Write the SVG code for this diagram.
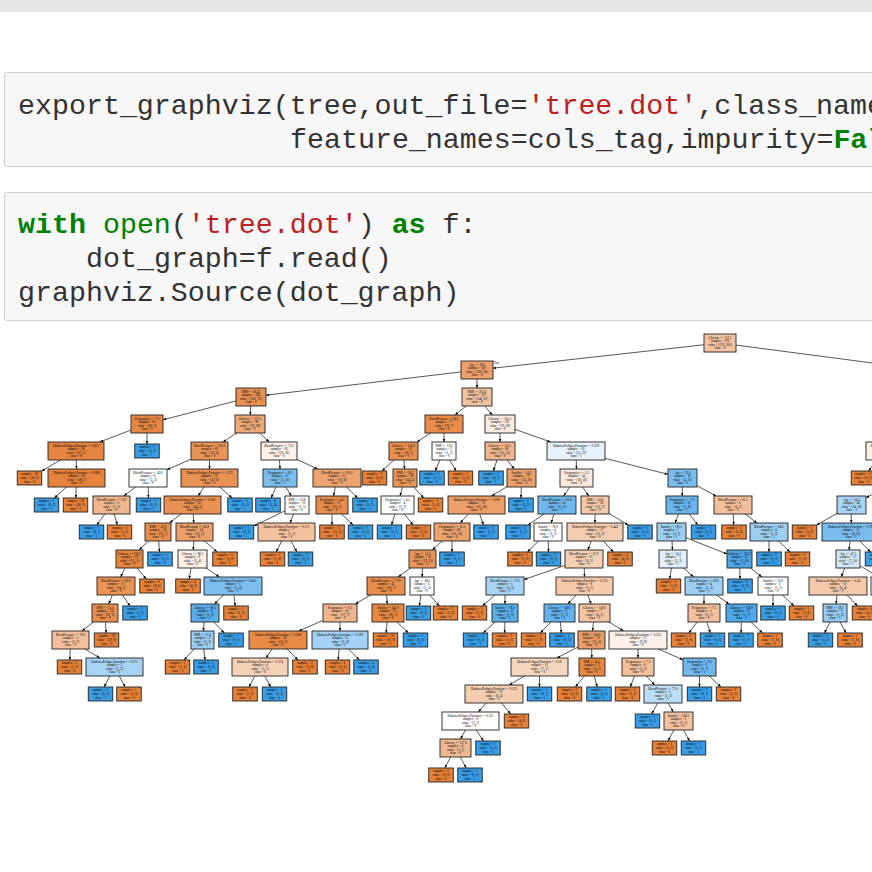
<svg xmlns="http://www.w3.org/2000/svg" width="872" height="872" viewBox="0 0 872 872">
<style>
.cell{fill:#f7f7f7;stroke:#cfcfcf;stroke-width:1}
.code{font-family:"Liberation Mono","DejaVu Sans Mono",monospace;font-size:28.3px;fill:#333}
.s{fill:#ba2121}
.k{fill:#008000;font-weight:bold}
.bi{fill:#008000}
.e{stroke:#444;stroke-width:0.9;fill:none;marker-end:url(#ah)}
.e0{stroke:#444;stroke-width:0.9;fill:none}
.nd rect{stroke:#222;stroke-width:0.9}
.nd text,.lbl{font-family:"Liberation Serif","DejaVu Serif",serif;font-size:3.2px;fill:#000;text-anchor:middle}
.o{fill:#e58139}
.b{fill:#399de5}
</style>
<defs>
<marker id="ah" viewBox="0 0 10 10" refX="10" refY="5" markerWidth="3.4" markerHeight="2.6" markerUnits="userSpaceOnUse" orient="auto" preserveAspectRatio="none"><path d="M0,0 L10,5 L0,10 z" fill="#000"/></marker>
</defs>
<rect x="0" y="0" width="872" height="872" fill="#fff"/>
<rect x="0" y="0" width="872" height="12" fill="#e6e6e6"/>
<g id="cell1">
<rect class="cell" x="4.5" y="72.5" width="880" height="94" rx="2"/>
<text class="code" x="18" y="114">export_graphviz(tree,out_file=<tspan class="s">'tree.dot'</tspan>,class_name</text>
<text class="code" x="290" y="148">feature_names=cols_tag,impurity=<tspan class="k">Fal</tspan></text>
</g>
<g id="cell2">
<rect class="cell" x="4.5" y="192.5" width="880" height="128" rx="2"/>
<text class="code" x="18" y="233"><tspan class="k">with</tspan> <tspan class="bi">open</tspan>(<tspan class="s">'tree.dot'</tspan>) <tspan class="k">as</tspan> f:</text>
<text class="code" x="86" y="267">dot_graph=f.read()</text>
<text class="code" x="18" y="301">graphviz.Source(dot_graph)</text>
</g>
<g id="edges">
<line class="e" x1="720" y1="343" x2="493" y2="368.2"/>
<line class="e0" x1="720" y1="343" x2="900" y2="366.6"/>
<line class="e" x1="477" y1="370" x2="266" y2="395.2"/>
<line class="e" x1="477" y1="370" x2="477" y2="388"/>
<line class="e" x1="251" y1="397" x2="163" y2="419.8"/>
<line class="e" x1="251" y1="397" x2="250.3" y2="415"/>
<line class="e" x1="477" y1="397" x2="455" y2="415"/>
<line class="e" x1="477" y1="397" x2="492.3" y2="415"/>
<line class="e" x1="147" y1="424" x2="99.7" y2="442"/>
<line class="e" x1="147" y1="424" x2="147" y2="444"/>
<line class="e" x1="250" y1="424" x2="223" y2="442"/>
<line class="e" x1="250" y1="424" x2="269.3" y2="442"/>
<line class="e" x1="444" y1="424" x2="417" y2="442"/>
<line class="e" x1="444" y1="424" x2="444" y2="442"/>
<line class="e" x1="500" y1="424" x2="500" y2="442"/>
<line class="e" x1="500" y1="424" x2="550.7" y2="442"/>
<line class="e" x1="76" y1="451" x2="41.6" y2="471"/>
<line class="e" x1="76" y1="451" x2="76.5" y2="469"/>
<line class="e" x1="209.5" y1="451" x2="167" y2="469.7"/>
<line class="e" x1="209.5" y1="451" x2="209.5" y2="469"/>
<line class="e" x1="279" y1="451" x2="280" y2="469"/>
<line class="e" x1="279" y1="451" x2="317.7" y2="469"/>
<line class="e" x1="403.5" y1="451" x2="382" y2="471"/>
<line class="e" x1="403.5" y1="451" x2="404.5" y2="469"/>
<line class="e" x1="444" y1="451" x2="435.1" y2="471"/>
<line class="e" x1="444" y1="451" x2="456.2" y2="471"/>
<line class="e" x1="500" y1="451" x2="493.3" y2="471"/>
<line class="e" x1="500" y1="451" x2="514.3" y2="469"/>
<line class="e" x1="576" y1="451" x2="576.5" y2="469"/>
<line class="e" x1="576" y1="451" x2="668" y2="474.3"/>
<line class="e" x1="883" y1="451" x2="868.6" y2="471"/>
<line class="e" x1="905" y1="478" x2="866" y2="497.7"/>
<line class="e" x1="76.5" y1="478" x2="54.3" y2="498"/>
<line class="e" x1="76.5" y1="478" x2="75.8" y2="498"/>
<line class="e" x1="148" y1="478" x2="123.7" y2="496"/>
<line class="e" x1="148" y1="478" x2="148.5" y2="498"/>
<line class="e" x1="209.5" y1="478" x2="198.2" y2="496"/>
<line class="e" x1="209.5" y1="478" x2="232.1" y2="498"/>
<line class="e" x1="280" y1="478" x2="271.1" y2="498"/>
<line class="e" x1="280" y1="478" x2="291.3" y2="496"/>
<line class="e" x1="337" y1="478" x2="333.7" y2="496"/>
<line class="e" x1="337" y1="478" x2="357.7" y2="498"/>
<line class="e" x1="405" y1="478" x2="400" y2="496"/>
<line class="e" x1="405" y1="478" x2="423.9" y2="498"/>
<line class="e" x1="521.5" y1="478" x2="491.5" y2="496"/>
<line class="e" x1="521.5" y1="478" x2="521" y2="498"/>
<line class="e" x1="576.5" y1="478" x2="563.5" y2="496"/>
<line class="e" x1="576.5" y1="478" x2="588.8" y2="496"/>
<line class="e" x1="682.5" y1="478" x2="682.2" y2="496"/>
<line class="e" x1="682.5" y1="478" x2="716.2" y2="496"/>
<line class="e" x1="851.5" y1="505" x2="816.7" y2="525"/>
<line class="e" x1="851.5" y1="505" x2="851.2" y2="523"/>
<line class="e" x1="111.5" y1="505" x2="96.7" y2="525"/>
<line class="e" x1="111.5" y1="505" x2="117.4" y2="525"/>
<line class="e" x1="192.5" y1="505" x2="169.5" y2="523"/>
<line class="e" x1="192.5" y1="505" x2="193.8" y2="523"/>
<line class="e" x1="297" y1="505" x2="253.75" y2="526"/>
<line class="e" x1="297" y1="505" x2="290" y2="523"/>
<line class="e" x1="332" y1="505" x2="332" y2="525"/>
<line class="e" x1="332" y1="505" x2="353.1" y2="525"/>
<line class="e" x1="397.5" y1="505" x2="391.6" y2="525"/>
<line class="e" x1="397.5" y1="505" x2="413.1" y2="525"/>
<line class="e" x1="476.5" y1="505" x2="460.2" y2="523"/>
<line class="e" x1="476.5" y1="505" x2="483.5" y2="525"/>
<line class="e" x1="557" y1="505" x2="528.1" y2="525"/>
<line class="e" x1="557" y1="505" x2="551" y2="523"/>
<line class="e" x1="595" y1="505" x2="595" y2="523"/>
<line class="e" x1="595" y1="505" x2="628.3" y2="525"/>
<line class="e" x1="682" y1="505" x2="675" y2="523"/>
<line class="e" x1="682" y1="505" x2="697.9" y2="525"/>
<line class="e" x1="733" y1="505" x2="733.7" y2="525"/>
<line class="e" x1="733" y1="505" x2="757" y2="523"/>
<line class="e" x1="851" y1="532" x2="849" y2="550"/>
<line class="e" x1="851" y1="532" x2="870.6" y2="552"/>
<line class="e" x1="158" y1="532" x2="139" y2="550"/>
<line class="e" x1="158" y1="532" x2="159.5" y2="552"/>
<line class="e" x1="194.5" y1="532" x2="193.2" y2="550"/>
<line class="e" x1="194.5" y1="532" x2="217.1" y2="552"/>
<line class="e" x1="286.5" y1="532" x2="276.1" y2="552"/>
<line class="e" x1="286.5" y1="532" x2="296.9" y2="552"/>
<line class="e" x1="452" y1="532" x2="432.3" y2="550"/>
<line class="e" x1="452" y1="532" x2="452" y2="552"/>
<line class="e" x1="548" y1="532" x2="527.3" y2="552"/>
<line class="e" x1="548" y1="532" x2="548.5" y2="552"/>
<line class="e" x1="595" y1="532" x2="587.7" y2="550"/>
<line class="e" x1="595" y1="532" x2="613.5" y2="552"/>
<line class="e" x1="671.5" y1="532" x2="672.5" y2="550"/>
<line class="e" x1="671.5" y1="532" x2="727" y2="554"/>
<line class="e" x1="769" y1="532" x2="769" y2="552"/>
<line class="e" x1="769" y1="532" x2="790.1" y2="552"/>
<line class="e" x1="848" y1="559" x2="841.3" y2="577"/>
<line class="e" x1="848" y1="559" x2="879.3" y2="577"/>
<line class="e" x1="129.5" y1="559" x2="120.5" y2="577"/>
<line class="e" x1="129.5" y1="559" x2="146.2" y2="579"/>
<line class="e" x1="192.5" y1="559" x2="189.2" y2="579"/>
<line class="e" x1="192.5" y1="559" x2="219.5" y2="577"/>
<line class="e" x1="422.5" y1="559" x2="398.2" y2="577"/>
<line class="e" x1="422.5" y1="559" x2="422.2" y2="577"/>
<line class="e" x1="584" y1="559" x2="524" y2="579.5"/>
<line class="e" x1="584" y1="559" x2="584.5" y2="577"/>
<line class="e" x1="673" y1="559" x2="669.7" y2="579"/>
<line class="e" x1="673" y1="559" x2="693.7" y2="577"/>
<line class="e" x1="739.5" y1="559" x2="740" y2="579"/>
<line class="e" x1="739.5" y1="559" x2="761.8" y2="577"/>
<line class="e" x1="116" y1="586" x2="108.7" y2="604"/>
<line class="e" x1="116" y1="586" x2="130.1" y2="606"/>
<line class="e" x1="233" y1="586" x2="214.3" y2="604"/>
<line class="e" x1="233" y1="586" x2="235.2" y2="606"/>
<line class="e" x1="386" y1="586" x2="355.3" y2="604"/>
<line class="e" x1="386" y1="586" x2="387.3" y2="604"/>
<line class="e" x1="422" y1="586" x2="419.4" y2="606"/>
<line class="e" x1="422" y1="586" x2="439.4" y2="606"/>
<line class="e" x1="505" y1="586" x2="482.4" y2="606"/>
<line class="e" x1="505" y1="586" x2="505" y2="604"/>
<line class="e" x1="584.5" y1="586" x2="567.8" y2="604"/>
<line class="e" x1="584.5" y1="586" x2="591.2" y2="604"/>
<line class="e" x1="704" y1="586" x2="704" y2="604"/>
<line class="e" x1="704" y1="586" x2="729" y2="604"/>
<line class="e" x1="773" y1="586" x2="773" y2="606"/>
<line class="e" x1="773" y1="586" x2="794.1" y2="606"/>
<line class="e" x1="838" y1="586" x2="836" y2="604"/>
<line class="e" x1="838" y1="586" x2="857.6" y2="606"/>
<line class="e" x1="105" y1="613" x2="82" y2="631"/>
<line class="e" x1="105" y1="613" x2="106.1" y2="633"/>
<line class="e" x1="205" y1="613" x2="203.3" y2="631"/>
<line class="e" x1="205" y1="613" x2="224.3" y2="633"/>
<line class="e" x1="340" y1="613" x2="298.7" y2="631"/>
<line class="e" x1="340" y1="613" x2="340" y2="631"/>
<line class="e" x1="388" y1="613" x2="386.1" y2="633"/>
<line class="e" x1="388" y1="613" x2="408.4" y2="633"/>
<line class="e" x1="505" y1="613" x2="483.1" y2="633"/>
<line class="e" x1="505" y1="613" x2="504.6" y2="633"/>
<line class="e" x1="559.5" y1="613" x2="540.2" y2="633"/>
<line class="e" x1="559.5" y1="613" x2="561.4" y2="633"/>
<line class="e" x1="594.5" y1="613" x2="592.5" y2="631"/>
<line class="e" x1="594.5" y1="613" x2="623.5" y2="631"/>
<line class="e" x1="704" y1="613" x2="688.8" y2="633"/>
<line class="e" x1="704" y1="613" x2="710.3" y2="633"/>
<line class="e" x1="741.5" y1="613" x2="741.1" y2="633"/>
<line class="e" x1="741.5" y1="613" x2="762.6" y2="633"/>
<line class="e" x1="835" y1="613" x2="824.3" y2="633"/>
<line class="e" x1="835" y1="613" x2="846.1" y2="633"/>
<line class="e" x1="70.5" y1="640" x2="69.8" y2="660"/>
<line class="e" x1="70.5" y1="640" x2="99.8" y2="658"/>
<line class="e" x1="202.5" y1="640" x2="184" y2="660"/>
<line class="e" x1="202.5" y1="640" x2="205.1" y2="660"/>
<line class="e" x1="278" y1="640" x2="266" y2="658"/>
<line class="e" x1="278" y1="640" x2="298" y2="660"/>
<line class="e" x1="340" y1="640" x2="338.1" y2="660"/>
<line class="e" x1="340" y1="640" x2="359.3" y2="660"/>
<line class="e" x1="591.5" y1="640" x2="556.8" y2="658"/>
<line class="e" x1="591.5" y1="640" x2="591.8" y2="658"/>
<line class="e" x1="638" y1="640" x2="638" y2="658"/>
<line class="e" x1="638" y1="640" x2="683" y2="659.8"/>
<line class="e" x1="114.5" y1="667" x2="104.1" y2="687"/>
<line class="e" x1="114.5" y1="667" x2="125.2" y2="687"/>
<line class="e" x1="260" y1="667" x2="248.9" y2="687"/>
<line class="e" x1="260" y1="667" x2="270.7" y2="687"/>
<line class="e" x1="539.5" y1="667" x2="509.2" y2="685"/>
<line class="e" x1="539.5" y1="667" x2="539.5" y2="687"/>
<line class="e" x1="592" y1="667" x2="575.3" y2="687"/>
<line class="e" x1="592" y1="667" x2="597.2" y2="687"/>
<line class="e" x1="638" y1="667" x2="630.2" y2="687"/>
<line class="e" x1="638" y1="667" x2="654.7" y2="685"/>
<line class="e" x1="699.5" y1="667" x2="699.5" y2="687"/>
<line class="e" x1="699.5" y1="667" x2="721" y2="687"/>
<line class="e" x1="494" y1="694" x2="478.3" y2="712"/>
<line class="e" x1="494" y1="694" x2="510.7" y2="714"/>
<line class="e" x1="663" y1="694" x2="651.5" y2="714"/>
<line class="e" x1="663" y1="694" x2="673.3" y2="712"/>
<line class="e" x1="470.5" y1="721" x2="460.5" y2="739"/>
<line class="e" x1="470.5" y1="721" x2="483.5" y2="741"/>
<line class="e" x1="678.5" y1="721" x2="668.1" y2="741"/>
<line class="e" x1="678.5" y1="721" x2="689.6" y2="741"/>
<line class="e" x1="455.5" y1="748" x2="444.8" y2="768"/>
<line class="e" x1="455.5" y1="748" x2="466.2" y2="768"/>
</g>
<text class="lbl" x="496.5" y="364" font-size="2.8">True</text>
<g id="nodes">
<g id="n0" class="nd"><rect x="704" y="334" width="32" height="18" fill="#f3c4a2"/><text x="720" y="338.6">Glucose &lt;= 127.5<tspan x="720" dy="3.6">samples = 576</tspan><tspan x="720" dy="3.6">value = [376, 200]</tspan><tspan x="720" dy="3.6">class = 0</tspan></text></g>
<g id="n1" class="nd"><rect x="461" y="361" width="32" height="18" fill="#eda06a"/><text x="477" y="365.6">Age &lt;= 28.5<tspan x="477" dy="3.6">samples = 367</tspan><tspan x="477" dy="3.6">value = [287, 80]</tspan><tspan x="477" dy="3.6">class = 0</tspan></text></g>
<g id="n3" class="nd"><rect x="236" y="388" width="30" height="18" fill="#e89152"/><text x="251" y="392.6">BMI &lt;= 26.45<tspan x="251" dy="3.6">samples = 160</tspan><tspan x="251" dy="3.6">value = [147, 13]</tspan><tspan x="251" dy="3.6">class = 0</tspan></text></g>
<g id="n4" class="nd"><rect x="462" y="388" width="30" height="18" fill="#f2c3a1"/><text x="477" y="392.6">BMI &lt;= 26.35<tspan x="477" dy="3.6">samples = 207</tspan><tspan x="477" dy="3.6">value = [140, 67]</tspan><tspan x="477" dy="3.6">class = 0</tspan></text></g>
<g id="n5" class="nd"><rect x="131" y="415" width="32" height="18" fill="#e68844"/><text x="147" y="419.6">Pregnancies &lt;= 7.5<tspan x="147" dy="3.6">samples = 65</tspan><tspan x="147" dy="3.6">value = [63, 2]</tspan><tspan x="147" dy="3.6">class = 0</tspan></text></g>
<g id="n6" class="nd"><rect x="235" y="415" width="30" height="18" fill="#eda877"/><text x="250" y="419.6">Glucose &lt;= 117.5<tspan x="250" dy="3.6">samples = 98</tspan><tspan x="250" dy="3.6">value = [70, 28]</tspan><tspan x="250" dy="3.6">class = 0</tspan></text></g>
<g id="n7" class="nd"><rect x="425" y="415" width="38" height="18" fill="#e88d4c"/><text x="444" y="419.6">BloodPressure &lt;= 84.5<tspan x="444" dy="3.6">samples = 77</tspan><tspan x="444" dy="3.6">value = [70, 7]</tspan><tspan x="444" dy="3.6">class = 0</tspan></text></g>
<g id="n8" class="nd"><rect x="485" y="415" width="30" height="18" fill="#fbede3"/><text x="500" y="419.6">Glucose &lt;= 165.5<tspan x="500" dy="3.6">samples = 130</tspan><tspan x="500" dy="3.6">value = [70, 60]</tspan><tspan x="500" dy="3.6">class = 0</tspan></text></g>
<g id="n9" class="nd"><rect x="48" y="442" width="56" height="18" fill="#e6853f"/><text x="76" y="446.6">DiabetesPedigreeFunction &lt;= 0.672<tspan x="76" dy="3.6">samples = 58</tspan><tspan x="76" dy="3.6">value = [57, 1]</tspan><tspan x="76" dy="3.6">class = 0</tspan></text></g>
<g id="n10" class="nd"><rect class="b" x="134.75" y="444" width="24.5" height="14"/><text x="147" y="448.4">samples = 3<tspan x="147" dy="3.6">value = [0, 3]</tspan><tspan x="147" dy="3.6">class = 1</tspan></text></g>
<g id="n11" class="nd"><rect x="191" y="442" width="37" height="18" fill="#e99558"/><text x="209.5" y="446.6">BloodPressure &lt;= 103.0<tspan x="209.5" dy="3.6">samples = 60</tspan><tspan x="209.5" dy="3.6">value = [52, 8]</tspan><tspan x="209.5" dy="3.6">class = 0</tspan></text></g>
<g id="n12" class="nd"><rect x="261" y="442" width="36" height="18" fill="#fcf2eb"/><text x="279" y="446.6">BloodPressure &lt;= 73.5<tspan x="279" dy="3.6">samples = 38</tspan><tspan x="279" dy="3.6">value = [20, 18]</tspan><tspan x="279" dy="3.6">class = 0</tspan></text></g>
<g id="n13" class="nd"><rect x="389" y="442" width="29" height="18" fill="#e89050"/><text x="403.5" y="446.6">Glucose &lt;= 114.5<tspan x="403.5" dy="3.6">samples = 55</tspan><tspan x="403.5" dy="3.6">value = [50, 5]</tspan><tspan x="403.5" dy="3.6">class = 0</tspan></text></g>
<g id="n14" class="nd"><rect x="432" y="442" width="24" height="18" fill="#ffffff"/><text x="444" y="446.6">BMI &lt;= 12.0<tspan x="444" dy="3.6">samples = 2</tspan><tspan x="444" dy="3.6">value = [1, 1]</tspan><tspan x="444" dy="3.6">class = 0</tspan></text></g>
<g id="n15" class="nd"><rect x="485" y="442" width="30" height="18" fill="#f0b68c"/><text x="500" y="446.6">Glucose &lt;= 155.5<tspan x="500" dy="3.6">samples = 80</tspan><tspan x="500" dy="3.6">value = [55, 25]</tspan><tspan x="500" dy="3.6">class = 0</tspan></text></g>
<g id="n16" class="nd"><rect x="547" y="442" width="58" height="18" fill="#e5f2fc"/><text x="576" y="446.6">DiabetesPedigreeFunction &lt;= 0.529<tspan x="576" dy="3.6">samples = 50</tspan><tspan x="576" dy="3.6">value = [23, 27]</tspan><tspan x="576" dy="3.6">class = 1</tspan></text></g>
<g id="n17" class="nd"><rect x="866" y="442" width="34" height="18" fill="#fbeee5"/><text x="883" y="446.6">Pregnancies &lt;= 6.5<tspan x="883" dy="3.6">samples = 193</tspan><tspan x="883" dy="3.6">value = [98, 95]</tspan><tspan x="883" dy="3.6">class = 0</tspan></text></g>
<g id="n18" class="nd"><rect class="o" x="17.25" y="471" width="24.5" height="14"/><text x="29.5" y="475.4">samples = 26<tspan x="29.5" dy="3.6">value = [26, 0]</tspan><tspan x="29.5" dy="3.6">class = 0</tspan></text></g>
<g id="n19" class="nd"><rect x="48" y="469" width="57" height="18" fill="#e5833c"/><text x="76.5" y="473.6">DiabetesPedigreeFunction &lt;= 0.688<tspan x="76.5" dy="3.6">samples = 29</tspan><tspan x="76.5" dy="3.6">value = [28, 1]</tspan><tspan x="76.5" dy="3.6">class = 0</tspan></text></g>
<g id="n20" class="nd"><rect x="129" y="469" width="38" height="18" fill="#ffffff"/><text x="148" y="473.6">BloodPressure &lt;= 49.0<tspan x="148" dy="3.6">samples = 6</tspan><tspan x="148" dy="3.6">value = [3, 3]</tspan><tspan x="148" dy="3.6">class = 0</tspan></text></g>
<g id="n21" class="nd"><rect x="181" y="469" width="57" height="18" fill="#e89253"/><text x="209.5" y="473.6">DiabetesPedigreeFunction &lt;= 1.272<tspan x="209.5" dy="3.6">samples = 53</tspan><tspan x="209.5" dy="3.6">value = [47, 6]</tspan><tspan x="209.5" dy="3.6">class = 0</tspan></text></g>
<g id="n22" class="nd"><rect x="263" y="469" width="34" height="18" fill="#7bbeee"/><text x="280" y="473.6">Pregnancies &lt;= 8.5<tspan x="280" dy="3.6">samples = 13</tspan><tspan x="280" dy="3.6">value = [3, 10]</tspan><tspan x="280" dy="3.6">class = 1</tspan></text></g>
<g id="n23" class="nd"><rect x="313" y="469" width="48" height="18" fill="#eca36e"/><text x="337" y="473.6">BloodPressure &lt;= 101.0<tspan x="337" dy="3.6">samples = 25</tspan><tspan x="337" dy="3.6">value = [19, 6]</tspan><tspan x="337" dy="3.6">class = 0</tspan></text></g>
<g id="n24" class="nd"><rect class="o" x="362.25" y="471" width="24.5" height="14"/><text x="374.5" y="475.4">samples = 9<tspan x="374.5" dy="3.6">value = [9, 0]</tspan><tspan x="374.5" dy="3.6">class = 0</tspan></text></g>
<g id="n25" class="nd"><rect x="393" y="469" width="24" height="18" fill="#e99659"/><text x="405" y="473.6">BMI &lt;= 24.2<tspan x="405" dy="3.6">samples = 28</tspan><tspan x="405" dy="3.6">value = [24, 4]</tspan><tspan x="405" dy="3.6">class = 0</tspan></text></g>
<g id="n26" class="nd"><rect class="b" x="419.75" y="471" width="24.5" height="14"/><text x="432" y="475.4">samples = 1<tspan x="432" dy="3.6">value = [0, 1]</tspan><tspan x="432" dy="3.6">class = 1</tspan></text></g>
<g id="n27" class="nd"><rect class="o" x="448.25" y="471" width="24.5" height="14"/><text x="460.5" y="475.4">samples = 1<tspan x="460.5" dy="3.6">value = [1, 0]</tspan><tspan x="460.5" dy="3.6">class = 0</tspan></text></g>
<g id="n28" class="nd"><rect class="b" x="478.75" y="471" width="24.5" height="14"/><text x="491" y="475.4">samples = 2<tspan x="491" dy="3.6">value = [0, 2]</tspan><tspan x="491" dy="3.6">class = 1</tspan></text></g>
<g id="n29" class="nd"><rect x="507" y="469" width="29" height="18" fill="#eca06a"/><text x="521.5" y="473.6">Insulin &lt;= 14.5<tspan x="521.5" dy="3.6">samples = 72</tspan><tspan x="521.5" dy="3.6">value = [52, 20]</tspan><tspan x="521.5" dy="3.6">class = 0</tspan></text></g>
<g id="n30" class="nd"><rect x="560" y="469" width="33" height="18" fill="#fae9dc"/><text x="576.5" y="473.6">Pregnancies &lt;= 1.5<tspan x="576.5" dy="3.6">samples = 34</tspan><tspan x="576.5" dy="3.6">value = [18, 16]</tspan><tspan x="576.5" dy="3.6">class = 0</tspan></text></g>
<g id="n31" class="nd"><rect x="668" y="469" width="29" height="18" fill="#7bbeee"/><text x="682.5" y="473.6">Age &lt;= 33.5<tspan x="682.5" dy="3.6">samples = 16</tspan><tspan x="682.5" dy="3.6">value = [4, 12]</tspan><tspan x="682.5" dy="3.6">class = 1</tspan></text></g>
<g id="n32" class="nd"><rect class="o" x="851.25" y="471" width="24.5" height="14"/><text x="863.5" y="475.4">samples = 12<tspan x="863.5" dy="3.6">value = [12, 0]</tspan><tspan x="863.5" dy="3.6">class = 0</tspan></text></g>
<g id="n33" class="nd"><rect class="b" x="34.25" y="498" width="24.5" height="14"/><text x="46.5" y="502.4">samples = 1<tspan x="46.5" dy="3.6">value = [0, 1]</tspan><tspan x="46.5" dy="3.6">class = 1</tspan></text></g>
<g id="n34" class="nd"><rect class="o" x="63.25" y="498" width="24.5" height="14"/><text x="75.5" y="502.4">samples = 28<tspan x="75.5" dy="3.6">value = [28, 0]</tspan><tspan x="75.5" dy="3.6">class = 0</tspan></text></g>
<g id="n35" class="nd"><rect x="93" y="496" width="37" height="18" fill="#f0b78e"/><text x="111.5" y="500.6">BloodPressure &lt;= 72.0<tspan x="111.5" dy="3.6">samples = 5</tspan><tspan x="111.5" dy="3.6">value = [3, 2]</tspan><tspan x="111.5" dy="3.6">class = 0</tspan></text></g>
<g id="n36" class="nd"><rect class="b" x="136.25" y="498" width="24.5" height="14"/><text x="148.5" y="502.4">samples = 1<tspan x="148.5" dy="3.6">value = [0, 1]</tspan><tspan x="148.5" dy="3.6">class = 1</tspan></text></g>
<g id="n37" class="nd"><rect x="164" y="496" width="57" height="18" fill="#e89152"/><text x="192.5" y="500.6">DiabetesPedigreeFunction &lt;= 0.181<tspan x="192.5" dy="3.6">samples = 50</tspan><tspan x="192.5" dy="3.6">value = [44, 6]</tspan><tspan x="192.5" dy="3.6">class = 0</tspan></text></g>
<g id="n38" class="nd"><rect class="b" x="227.75" y="498" width="24.5" height="14"/><text x="240" y="502.4">samples = 3<tspan x="240" dy="3.6">value = [0, 3]</tspan><tspan x="240" dy="3.6">class = 1</tspan></text></g>
<g id="n39" class="nd"><rect class="b" x="255.75" y="498" width="24.5" height="14"/><text x="268" y="502.4">samples = 4<tspan x="268" dy="3.6">value = [0, 4]</tspan><tspan x="268" dy="3.6">class = 1</tspan></text></g>
<g id="n40" class="nd"><rect x="285" y="496" width="24" height="18" fill="#ffffff"/><text x="297" y="500.6">BMI &lt;= 33.8<tspan x="297" dy="3.6">samples = 10</tspan><tspan x="297" dy="3.6">value = [5, 5]</tspan><tspan x="297" dy="3.6">class = 0</tspan></text></g>
<g id="n41" class="nd"><rect x="316" y="496" width="32" height="18" fill="#e88e4d"/><text x="332" y="500.6">Pregnancies &lt;= 4.5<tspan x="332" dy="3.6">samples = 17</tspan><tspan x="332" dy="3.6">value = [15, 2]</tspan><tspan x="332" dy="3.6">class = 0</tspan></text></g>
<g id="n42" class="nd"><rect class="b" x="352.75" y="498" width="24.5" height="14"/><text x="365" y="502.4">samples = 3<tspan x="365" dy="3.6">value = [0, 3]</tspan><tspan x="365" dy="3.6">class = 1</tspan></text></g>
<g id="n43" class="nd"><rect x="381" y="496" width="33" height="18" fill="#ffffff"/><text x="397.5" y="500.6">Pregnancies &lt;= 4.5<tspan x="397.5" dy="3.6">samples = 4</tspan><tspan x="397.5" dy="3.6">value = [2, 2]</tspan><tspan x="397.5" dy="3.6">class = 0</tspan></text></g>
<g id="n44" class="nd"><rect class="o" x="418.25" y="498" width="24.5" height="14"/><text x="430.5" y="502.4">samples = 5<tspan x="430.5" dy="3.6">value = [5, 0]</tspan><tspan x="430.5" dy="3.6">class = 0</tspan></text></g>
<g id="n45" class="nd"><rect x="448" y="496" width="57" height="18" fill="#eb9e66"/><text x="476.5" y="500.6">DiabetesPedigreeFunction &lt;= 1.109<tspan x="476.5" dy="3.6">samples = 70</tspan><tspan x="476.5" dy="3.6">value = [52, 18]</tspan><tspan x="476.5" dy="3.6">class = 0</tspan></text></g>
<g id="n46" class="nd"><rect class="b" x="508.75" y="498" width="24.5" height="14"/><text x="521" y="502.4">samples = 2<tspan x="521" dy="3.6">value = [0, 2]</tspan><tspan x="521" dy="3.6">class = 1</tspan></text></g>
<g id="n47" class="nd"><rect x="538" y="496" width="38" height="18" fill="#6fb8ec"/><text x="557" y="500.6">BloodPressure &lt;= 81.0<tspan x="557" dy="3.6">samples = 14</tspan><tspan x="557" dy="3.6">value = [3, 11]</tspan><tspan x="557" dy="3.6">class = 1</tspan></text></g>
<g id="n48" class="nd"><rect x="581" y="496" width="28" height="18" fill="#f4c8a8"/><text x="595" y="500.6">BMI &lt;= 43.6<tspan x="595" dy="3.6">samples = 20</tspan><tspan x="595" dy="3.6">value = [13, 7]</tspan><tspan x="595" dy="3.6">class = 0</tspan></text></g>
<g id="n49" class="nd"><rect x="666" y="496" width="32" height="18" fill="#6ab5eb"/><text x="682" y="500.6">Pregnancies &lt;= 7.5<tspan x="682" dy="3.6">samples = 10</tspan><tspan x="682" dy="3.6">value = [2, 8]</tspan><tspan x="682" dy="3.6">class = 1</tspan></text></g>
<g id="n50" class="nd"><rect x="714" y="496" width="38" height="18" fill="#f2c09c"/><text x="733" y="500.6">BloodPressure &lt;= 61.5<tspan x="733" dy="3.6">samples = 6</tspan><tspan x="733" dy="3.6">value = [4, 2]</tspan><tspan x="733" dy="3.6">class = 0</tspan></text></g>
<g id="n51" class="nd"><rect x="837" y="496" width="29" height="18" fill="#a9d4f4"/><text x="851.5" y="500.6">Age &lt;= 34.5<tspan x="851.5" dy="3.6">samples = 40</tspan><tspan x="851.5" dy="3.6">value = [14, 26]</tspan><tspan x="851.5" dy="3.6">class = 1</tspan></text></g>
<g id="n52" class="nd"><rect class="b" x="79.25" y="525" width="24.5" height="14"/><text x="91.5" y="529.4">samples = 1<tspan x="91.5" dy="3.6">value = [0, 1]</tspan><tspan x="91.5" dy="3.6">class = 1</tspan></text></g>
<g id="n53" class="nd"><rect class="o" x="107.25" y="525" width="24.5" height="14"/><text x="119.5" y="529.4">samples = 3<tspan x="119.5" dy="3.6">value = [3, 0]</tspan><tspan x="119.5" dy="3.6">class = 0</tspan></text></g>
<g id="n54" class="nd"><rect x="145" y="523" width="26" height="18" fill="#e88f4f"/><text x="158" y="527.6">BMI &lt;= 47.0<tspan x="158" dy="3.6">samples = 36</tspan><tspan x="158" dy="3.6">value = [33, 3]</tspan><tspan x="158" dy="3.6">class = 0</tspan></text></g>
<g id="n55" class="nd"><rect x="176" y="523" width="37" height="18" fill="#eba06a"/><text x="194.5" y="527.6">BloodPressure &lt;= 63.0<tspan x="194.5" dy="3.6">samples = 14</tspan><tspan x="194.5" dy="3.6">value = [11, 3]</tspan><tspan x="194.5" dy="3.6">class = 0</tspan></text></g>
<g id="n56" class="nd"><rect class="b" x="229.25" y="525" width="24.5" height="14"/><text x="241.5" y="529.4">samples = 3<tspan x="241.5" dy="3.6">value = [0, 3]</tspan><tspan x="241.5" dy="3.6">class = 1</tspan></text></g>
<g id="n57" class="nd"><rect x="258" y="523" width="57" height="18" fill="#f3c3a0"/><text x="286.5" y="527.6">DiabetesPedigreeFunction &lt;= 0.571<tspan x="286.5" dy="3.6">samples = 7</tspan><tspan x="286.5" dy="3.6">value = [5, 2]</tspan><tspan x="286.5" dy="3.6">class = 0</tspan></text></g>
<g id="n58" class="nd"><rect class="o" x="319.75" y="525" width="24.5" height="14"/><text x="332" y="529.4">samples = 13<tspan x="332" dy="3.6">value = [13, 0]</tspan><tspan x="332" dy="3.6">class = 0</tspan></text></g>
<g id="n59" class="nd"><rect class="b" x="348.25" y="525" width="24.5" height="14"/><text x="360.5" y="529.4">samples = 2<tspan x="360.5" dy="3.6">value = [0, 2]</tspan><tspan x="360.5" dy="3.6">class = 1</tspan></text></g>
<g id="n60" class="nd"><rect class="b" x="377.25" y="525" width="24.5" height="14"/><text x="389.5" y="529.4">samples = 2<tspan x="389.5" dy="3.6">value = [0, 2]</tspan><tspan x="389.5" dy="3.6">class = 1</tspan></text></g>
<g id="n61" class="nd"><rect class="o" x="406.25" y="525" width="24.5" height="14"/><text x="418.5" y="529.4">samples = 2<tspan x="418.5" dy="3.6">value = [2, 0]</tspan><tspan x="418.5" dy="3.6">class = 0</tspan></text></g>
<g id="n62" class="nd"><rect x="434" y="523" width="36" height="18" fill="#eca26d"/><text x="452" y="527.6">Pregnancies &lt;= 11.5<tspan x="452" dy="3.6">samples = 66</tspan><tspan x="452" dy="3.6">value = [50, 16]</tspan><tspan x="452" dy="3.6">class = 0</tspan></text></g>
<g id="n63" class="nd"><rect class="b" x="473.75" y="525" width="24.5" height="14"/><text x="486" y="529.4">samples = 2<tspan x="486" dy="3.6">value = [0, 2]</tspan><tspan x="486" dy="3.6">class = 1</tspan></text></g>
<g id="n64" class="nd"><rect class="b" x="505.75" y="525" width="24.5" height="14"/><text x="518" y="529.4">samples = 3<tspan x="518" dy="3.6">value = [0, 3]</tspan><tspan x="518" dy="3.6">class = 1</tspan></text></g>
<g id="n65" class="nd"><rect x="534" y="523" width="28" height="18" fill="#ffffff"/><text x="548" y="527.6">Insulin &lt;= 78.0<tspan x="548" dy="3.6">samples = 4</tspan><tspan x="548" dy="3.6">value = [2, 2]</tspan><tspan x="548" dy="3.6">class = 0</tspan></text></g>
<g id="n66" class="nd"><rect x="567" y="523" width="56" height="18" fill="#f4cdb0"/><text x="595" y="527.6">DiabetesPedigreeFunction &lt;= 0.445<tspan x="595" dy="3.6">samples = 17</tspan><tspan x="595" dy="3.6">value = [11, 6]</tspan><tspan x="595" dy="3.6">class = 0</tspan></text></g>
<g id="n67" class="nd"><rect class="b" x="627.75" y="525" width="24.5" height="14"/><text x="640" y="529.4">samples = 3<tspan x="640" dy="3.6">value = [0, 3]</tspan><tspan x="640" dy="3.6">class = 1</tspan></text></g>
<g id="n68" class="nd"><rect x="657" y="523" width="29" height="18" fill="#9ccef2"/><text x="671.5" y="527.6">Insulin &lt;= 130.5<tspan x="671.5" dy="3.6">samples = 7</tspan><tspan x="671.5" dy="3.6">value = [2, 5]</tspan><tspan x="671.5" dy="3.6">class = 1</tspan></text></g>
<g id="n69" class="nd"><rect class="b" x="691.25" y="525" width="24.5" height="14"/><text x="703.5" y="529.4">samples = 3<tspan x="703.5" dy="3.6">value = [0, 3]</tspan><tspan x="703.5" dy="3.6">class = 1</tspan></text></g>
<g id="n70" class="nd"><rect class="o" x="721.75" y="525" width="24.5" height="14"/><text x="734" y="529.4">samples = 2<tspan x="734" dy="3.6">value = [2, 0]</tspan><tspan x="734" dy="3.6">class = 0</tspan></text></g>
<g id="n71" class="nd"><rect x="750" y="523" width="38" height="18" fill="#9ccef2"/><text x="769" y="527.6">BloodPressure &lt;= 84.5<tspan x="769" dy="3.6">samples = 4</tspan><tspan x="769" dy="3.6">value = [1, 3]</tspan><tspan x="769" dy="3.6">class = 1</tspan></text></g>
<g id="n72" class="nd"><rect class="o" x="792.25" y="525" width="24.5" height="14"/><text x="804.5" y="529.4">samples = 3<tspan x="804.5" dy="3.6">value = [3, 0]</tspan><tspan x="804.5" dy="3.6">class = 0</tspan></text></g>
<g id="n73" class="nd"><rect x="822" y="523" width="58" height="18" fill="#79bced"/><text x="851" y="527.6">DiabetesPedigreeFunction &lt;= 0.793<tspan x="851" dy="3.6">samples = 31</tspan><tspan x="851" dy="3.6">value = [8, 23]</tspan><tspan x="851" dy="3.6">class = 1</tspan></text></g>
<g id="n74" class="nd"><rect x="116" y="550" width="27" height="18" fill="#e68641"/><text x="129.5" y="554.6">Glucose &lt;= 110.5<tspan x="129.5" dy="3.6">samples = 33</tspan><tspan x="129.5" dy="3.6">value = [32, 1]</tspan><tspan x="129.5" dy="3.6">class = 0</tspan></text></g>
<g id="n75" class="nd"><rect class="b" x="147.75" y="552" width="24.5" height="14"/><text x="160" y="556.4">samples = 1<tspan x="160" dy="3.6">value = [0, 1]</tspan><tspan x="160" dy="3.6">class = 1</tspan></text></g>
<g id="n76" class="nd"><rect x="178" y="550" width="29" height="18" fill="#fbefe6"/><text x="192.5" y="554.6">Glucose &lt;= 96.5<tspan x="192.5" dy="3.6">samples = 9</tspan><tspan x="192.5" dy="3.6">value = [5, 4]</tspan><tspan x="192.5" dy="3.6">class = 0</tspan></text></g>
<g id="n77" class="nd"><rect class="o" x="212.75" y="552" width="24.5" height="14"/><text x="225" y="556.4">samples = 5<tspan x="225" dy="3.6">value = [5, 0]</tspan><tspan x="225" dy="3.6">class = 0</tspan></text></g>
<g id="n78" class="nd"><rect class="o" x="260.25" y="552" width="24.5" height="14"/><text x="272.5" y="556.4">samples = 5<tspan x="272.5" dy="3.6">value = [5, 0]</tspan><tspan x="272.5" dy="3.6">class = 0</tspan></text></g>
<g id="n79" class="nd"><rect class="b" x="288.25" y="552" width="24.5" height="14"/><text x="300.5" y="556.4">samples = 2<tspan x="300.5" dy="3.6">value = [0, 2]</tspan><tspan x="300.5" dy="3.6">class = 1</tspan></text></g>
<g id="n80" class="nd"><rect x="409" y="550" width="27" height="18" fill="#e9955a"/><text x="422.5" y="554.6">Age &lt;= 51.5<tspan x="422.5" dy="3.6">samples = 52</tspan><tspan x="422.5" dy="3.6">value = [39, 13]</tspan><tspan x="422.5" dy="3.6">class = 0</tspan></text></g>
<g id="n81" class="nd"><rect class="b" x="439.75" y="552" width="24.5" height="14"/><text x="452" y="556.4">samples = 1<tspan x="452" dy="3.6">value = [0, 1]</tspan><tspan x="452" dy="3.6">class = 1</tspan></text></g>
<g id="n82" class="nd"><rect class="o" x="507.75" y="552" width="24.5" height="14"/><text x="520" y="556.4">samples = 2<tspan x="520" dy="3.6">value = [2, 0]</tspan><tspan x="520" dy="3.6">class = 0</tspan></text></g>
<g id="n83" class="nd"><rect class="b" x="536.25" y="552" width="24.5" height="14"/><text x="548.5" y="556.4">samples = 2<tspan x="548.5" dy="3.6">value = [0, 2]</tspan><tspan x="548.5" dy="3.6">class = 1</tspan></text></g>
<g id="n84" class="nd"><rect x="565" y="550" width="38" height="18" fill="#f5d0b5"/><text x="584" y="554.6">BloodPressure &lt;= 67.0<tspan x="584" dy="3.6">samples = 13</tspan><tspan x="584" dy="3.6">value = [8, 5]</tspan><tspan x="584" dy="3.6">class = 0</tspan></text></g>
<g id="n85" class="nd"><rect class="o" x="607.75" y="552" width="24.5" height="14"/><text x="620" y="556.4">samples = 4<tspan x="620" dy="3.6">value = [4, 0]</tspan><tspan x="620" dy="3.6">class = 0</tspan></text></g>
<g id="n86" class="nd"><rect x="659" y="550" width="28" height="18" fill="#e1f0fb"/><text x="673" y="554.6">Age &lt;= 24.5<tspan x="673" dy="3.6">samples = 5</tspan><tspan x="673" dy="3.6">value = [2, 3]</tspan><tspan x="673" dy="3.6">class = 1</tspan></text></g>
<g id="n87" class="nd"><rect x="727" y="550" width="25" height="18" fill="#4ca6e7"/><text x="739.5" y="554.6">Glucose &lt;= 153.5<tspan x="739.5" dy="3.6">samples = 11</tspan><tspan x="739.5" dy="3.6">value = [1, 10]</tspan><tspan x="739.5" dy="3.6">class = 1</tspan></text></g>
<g id="n88" class="nd"><rect class="b" x="756.75" y="552" width="24.5" height="14"/><text x="769" y="556.4">samples = 3<tspan x="769" dy="3.6">value = [0, 3]</tspan><tspan x="769" dy="3.6">class = 1</tspan></text></g>
<g id="n89" class="nd"><rect class="o" x="785.25" y="552" width="24.5" height="14"/><text x="797.5" y="556.4">samples = 1<tspan x="797.5" dy="3.6">value = [1, 0]</tspan><tspan x="797.5" dy="3.6">class = 0</tspan></text></g>
<g id="n90" class="nd"><rect x="836" y="550" width="24" height="18" fill="#d3e9f9"/><text x="848" y="554.6">Age &lt;= 47.5<tspan x="848" dy="3.6">samples = 17</tspan><tspan x="848" dy="3.6">value = [7, 10]</tspan><tspan x="848" dy="3.6">class = 1</tspan></text></g>
<g id="n91" class="nd"><rect class="b" x="865.25" y="552" width="24.5" height="14"/><text x="877.5" y="556.4">samples = 7<tspan x="877.5" dy="3.6">value = [0, 7]</tspan><tspan x="877.5" dy="3.6">class = 1</tspan></text></g>
<g id="n92" class="nd"><rect x="97" y="577" width="38" height="18" fill="#e99355"/><text x="116" y="581.6">BloodPressure &lt;= 61.0<tspan x="116" dy="3.6">samples = 27</tspan><tspan x="116" dy="3.6">value = [24, 3]</tspan><tspan x="116" dy="3.6">class = 0</tspan></text></g>
<g id="n93" class="nd"><rect class="o" x="139.75" y="579" width="24.5" height="14"/><text x="152" y="583.4">samples = 9<tspan x="152" dy="3.6">value = [9, 0]</tspan><tspan x="152" dy="3.6">class = 0</tspan></text></g>
<g id="n94" class="nd"><rect class="o" x="175.75" y="579" width="24.5" height="14"/><text x="188" y="583.4">samples = 4<tspan x="188" dy="3.6">value = [4, 0]</tspan><tspan x="188" dy="3.6">class = 0</tspan></text></g>
<g id="n95" class="nd"><rect x="204" y="577" width="58" height="18" fill="#7bbdee"/><text x="233" y="581.6">DiabetesPedigreeFunction &lt;= 0.405<tspan x="233" dy="3.6">samples = 5</tspan><tspan x="233" dy="3.6">value = [1, 4]</tspan><tspan x="233" dy="3.6">class = 1</tspan></text></g>
<g id="n96" class="nd"><rect x="367" y="577" width="38" height="18" fill="#e88f4e"/><text x="386" y="581.6">BloodPressure &lt;= 77.0<tspan x="386" dy="3.6">samples = 45</tspan><tspan x="386" dy="3.6">value = [38, 7]</tspan><tspan x="386" dy="3.6">class = 0</tspan></text></g>
<g id="n97" class="nd"><rect x="410" y="577" width="24" height="18" fill="#ffffff"/><text x="422" y="581.6">Age &lt;= 49.0<tspan x="422" dy="3.6">samples = 6</tspan><tspan x="422" dy="3.6">value = [3, 3]</tspan><tspan x="422" dy="3.6">class = 0</tspan></text></g>
<g id="n98" class="nd"><rect x="486" y="577" width="38" height="18" fill="#a7d3f4"/><text x="505" y="581.6">BloodPressure &lt;= 71.0<tspan x="505" dy="3.6">samples = 5</tspan><tspan x="505" dy="3.6">value = [2, 3]</tspan><tspan x="505" dy="3.6">class = 1</tspan></text></g>
<g id="n99" class="nd"><rect x="556" y="577" width="57" height="18" fill="#f4caab"/><text x="584.5" y="581.6">DiabetesPedigreeFunction &lt;= 0.725<tspan x="584.5" dy="3.6">samples = 8</tspan><tspan x="584.5" dy="3.6">value = [5, 3]</tspan><tspan x="584.5" dy="3.6">class = 0</tspan></text></g>
<g id="n100" class="nd"><rect class="o" x="656.25" y="579" width="24.5" height="14"/><text x="668.5" y="583.4">samples = 1<tspan x="668.5" dy="3.6">value = [1, 0]</tspan><tspan x="668.5" dy="3.6">class = 0</tspan></text></g>
<g id="n101" class="nd"><rect x="685" y="577" width="38" height="18" fill="#9ccef2"/><text x="704" y="581.6">BloodPressure &lt;= 69.0<tspan x="704" dy="3.6">samples = 4</tspan><tspan x="704" dy="3.6">value = [1, 3]</tspan><tspan x="704" dy="3.6">class = 1</tspan></text></g>
<g id="n102" class="nd"><rect class="b" x="727.75" y="579" width="24.5" height="14"/><text x="740" y="583.4">samples = 9<tspan x="740" dy="3.6">value = [0, 9]</tspan><tspan x="740" dy="3.6">class = 1</tspan></text></g>
<g id="n103" class="nd"><rect x="758" y="577" width="30" height="18" fill="#ffffff"/><text x="773" y="581.6">Insulin &lt;= 72.0<tspan x="773" dy="3.6">samples = 2</tspan><tspan x="773" dy="3.6">value = [1, 1]</tspan><tspan x="773" dy="3.6">class = 0</tspan></text></g>
<g id="n104" class="nd"><rect x="809" y="577" width="58" height="18" fill="#f4c9aa"/><text x="838" y="581.6">DiabetesPedigreeFunction &lt;= 0.34<tspan x="838" dy="3.6">samples = 10</tspan><tspan x="838" dy="3.6">value = [6, 4]</tspan><tspan x="838" dy="3.6">class = 0</tspan></text></g>
<g id="n104b" class="nd"><rect x="871" y="577" width="48" height="18" fill="#ffffff"/><text x="895" y="581.6">Glucose &lt;= 142.5<tspan x="895" dy="3.6">samples = 7</tspan><tspan x="895" dy="3.6">value = [3, 4]</tspan><tspan x="895" dy="3.6">class = 1</tspan></text></g>
<g id="n105" class="nd"><rect x="92" y="604" width="26" height="18" fill="#e88f4f"/><text x="105" y="608.6">BMI &lt;= 31.3<tspan x="105" dy="3.6">samples = 24</tspan><tspan x="105" dy="3.6">value = [22, 2]</tspan><tspan x="105" dy="3.6">class = 0</tspan></text></g>
<g id="n106" class="nd"><rect class="b" x="122.75" y="606" width="24.5" height="14"/><text x="135" y="610.4">samples = 2<tspan x="135" dy="3.6">value = [0, 2]</tspan><tspan x="135" dy="3.6">class = 1</tspan></text></g>
<g id="n107" class="nd"><rect x="191" y="604" width="28" height="18" fill="#5aadea"/><text x="205" y="608.6">Glucose &lt;= 98.5<tspan x="205" dy="3.6">samples = 4</tspan><tspan x="205" dy="3.6">value = [1, 3]</tspan><tspan x="205" dy="3.6">class = 1</tspan></text></g>
<g id="n108" class="nd"><rect class="o" x="223.75" y="606" width="24.5" height="14"/><text x="236" y="610.4">samples = 1<tspan x="236" dy="3.6">value = [1, 0]</tspan><tspan x="236" dy="3.6">class = 0</tspan></text></g>
<g id="n109" class="nd"><rect x="323" y="604" width="34" height="18" fill="#f0b78e"/><text x="340" y="608.6">Pregnancies &lt;= 6.5<tspan x="340" dy="3.6">samples = 24</tspan><tspan x="340" dy="3.6">value = [17, 7]</tspan><tspan x="340" dy="3.6">class = 0</tspan></text></g>
<g id="n110" class="nd"><rect x="372" y="604" width="32" height="18" fill="#e78945"/><text x="388" y="608.6">Insulin &lt;= 145.0<tspan x="388" dy="3.6">samples = 21</tspan><tspan x="388" dy="3.6">value = [20, 1]</tspan><tspan x="388" dy="3.6">class = 0</tspan></text></g>
<g id="n111" class="nd"><rect class="b" x="406.25" y="606" width="24.5" height="14"/><text x="418.5" y="610.4">samples = 1<tspan x="418.5" dy="3.6">value = [0, 1]</tspan><tspan x="418.5" dy="3.6">class = 1</tspan></text></g>
<g id="n112" class="nd"><rect class="o" x="433.25" y="606" width="24.5" height="14"/><text x="445.5" y="610.4">samples = 3<tspan x="445.5" dy="3.6">value = [3, 0]</tspan><tspan x="445.5" dy="3.6">class = 0</tspan></text></g>
<g id="n113" class="nd"><rect class="o" x="462.25" y="606" width="24.5" height="14"/><text x="474.5" y="610.4">samples = 1<tspan x="474.5" dy="3.6">value = [1, 0]</tspan><tspan x="474.5" dy="3.6">class = 0</tspan></text></g>
<g id="n114" class="nd"><rect x="492" y="604" width="26" height="18" fill="#5caeea"/><text x="505" y="608.6">Insulin &lt;= 76.5<tspan x="505" dy="3.6">samples = 4</tspan><tspan x="505" dy="3.6">value = [1, 3]</tspan><tspan x="505" dy="3.6">class = 1</tspan></text></g>
<g id="n115" class="nd"><rect x="544" y="604" width="31" height="18" fill="#63b2eb"/><text x="559.5" y="608.6">Glucose &lt;= 168.5<tspan x="559.5" dy="3.6">samples = 6</tspan><tspan x="559.5" dy="3.6">value = [1, 5]</tspan><tspan x="559.5" dy="3.6">class = 1</tspan></text></g>
<g id="n116" class="nd"><rect x="579" y="604" width="31" height="18" fill="#f3c4a2"/><text x="594.5" y="608.6">Glucose &lt;= 158.0<tspan x="594.5" dy="3.6">samples = 7</tspan><tspan x="594.5" dy="3.6">value = [4, 3]</tspan><tspan x="594.5" dy="3.6">class = 0</tspan></text></g>
<g id="n117" class="nd"><rect x="688" y="604" width="32" height="18" fill="#f2c09c"/><text x="704" y="608.6">Pregnancies &lt;= 7.5<tspan x="704" dy="3.6">samples = 3</tspan><tspan x="704" dy="3.6">value = [2, 1]</tspan><tspan x="704" dy="3.6">class = 0</tspan></text></g>
<g id="n118" class="nd"><rect x="726" y="604" width="31" height="18" fill="#4fa8e8"/><text x="741.5" y="608.6">Glucose &lt;= 118.0<tspan x="741.5" dy="3.6">samples = 8</tspan><tspan x="741.5" dy="3.6">value = [1, 7]</tspan><tspan x="741.5" dy="3.6">class = 1</tspan></text></g>
<g id="n119" class="nd"><rect class="b" x="760.75" y="606" width="24.5" height="14"/><text x="773" y="610.4">samples = 1<tspan x="773" dy="3.6">value = [0, 1]</tspan><tspan x="773" dy="3.6">class = 1</tspan></text></g>
<g id="n120" class="nd"><rect class="o" x="789.25" y="606" width="24.5" height="14"/><text x="801.5" y="610.4">samples = 1<tspan x="801.5" dy="3.6">value = [1, 0]</tspan><tspan x="801.5" dy="3.6">class = 0</tspan></text></g>
<g id="n121" class="nd"><rect x="823" y="604" width="24" height="18" fill="#95cbf1"/><text x="835" y="608.6">BMI &lt;= 38.2<tspan x="835" dy="3.6">samples = 3</tspan><tspan x="835" dy="3.6">value = [1, 2]</tspan><tspan x="835" dy="3.6">class = 1</tspan></text></g>
<g id="n122" class="nd"><rect class="o" x="852.25" y="606" width="24.5" height="14"/><text x="864.5" y="610.4">samples = 4<tspan x="864.5" dy="3.6">value = [4, 0]</tspan><tspan x="864.5" dy="3.6">class = 0</tspan></text></g>
<g id="n123" class="nd"><rect x="52" y="631" width="37" height="18" fill="#f2c09c"/><text x="70.5" y="635.6">BloodPressure &lt;= 70.0<tspan x="70.5" dy="3.6">samples = 5</tspan><tspan x="70.5" dy="3.6">value = [3, 2]</tspan><tspan x="70.5" dy="3.6">class = 0</tspan></text></g>
<g id="n124" class="nd"><rect class="o" x="94.25" y="633" width="24.5" height="14"/><text x="106.5" y="637.4">samples = 19<tspan x="106.5" dy="3.6">value = [19, 0]</tspan><tspan x="106.5" dy="3.6">class = 0</tspan></text></g>
<g id="n125" class="nd"><rect x="191" y="631" width="23" height="18" fill="#9ccef2"/><text x="202.5" y="635.6">BMI &lt;= 37.4<tspan x="202.5" dy="3.6">samples = 3</tspan><tspan x="202.5" dy="3.6">value = [1, 2]</tspan><tspan x="202.5" dy="3.6">class = 1</tspan></text></g>
<g id="n126" class="nd"><rect class="b" x="218.75" y="633" width="24.5" height="14"/><text x="231" y="637.4">samples = 1<tspan x="231" dy="3.6">value = [0, 1]</tspan><tspan x="231" dy="3.6">class = 1</tspan></text></g>
<g id="n127" class="nd"><rect x="249" y="631" width="58" height="18" fill="#e78a47"/><text x="278" y="635.6">DiabetesPedigreeFunction &lt;= 0.268<tspan x="278" dy="3.6">samples = 18</tspan><tspan x="278" dy="3.6">value = [16, 2]</tspan><tspan x="278" dy="3.6">class = 0</tspan></text></g>
<g id="n128" class="nd"><rect x="312" y="631" width="56" height="18" fill="#a2d1f3"/><text x="340" y="635.6">DiabetesPedigreeFunction &lt;= 0.392<tspan x="340" dy="3.6">samples = 6</tspan><tspan x="340" dy="3.6">value = [2, 4]</tspan><tspan x="340" dy="3.6">class = 1</tspan></text></g>
<g id="n129" class="nd"><rect class="o" x="373.25" y="633" width="24.5" height="14"/><text x="385.5" y="637.4">samples = 20<tspan x="385.5" dy="3.6">value = [20, 0]</tspan><tspan x="385.5" dy="3.6">class = 0</tspan></text></g>
<g id="n130" class="nd"><rect class="b" x="403.25" y="633" width="24.5" height="14"/><text x="415.5" y="637.4">samples = 1<tspan x="415.5" dy="3.6">value = [0, 1]</tspan><tspan x="415.5" dy="3.6">class = 1</tspan></text></g>
<g id="n131" class="nd"><rect class="b" x="463.25" y="633" width="24.5" height="14"/><text x="475.5" y="637.4">samples = 3<tspan x="475.5" dy="3.6">value = [0, 3]</tspan><tspan x="475.5" dy="3.6">class = 1</tspan></text></g>
<g id="n132" class="nd"><rect class="o" x="492.25" y="633" width="24.5" height="14"/><text x="504.5" y="637.4">samples = 1<tspan x="504.5" dy="3.6">value = [1, 0]</tspan><tspan x="504.5" dy="3.6">class = 0</tspan></text></g>
<g id="n133" class="nd"><rect class="o" x="521.25" y="633" width="24.5" height="14"/><text x="533.5" y="637.4">samples = 1<tspan x="533.5" dy="3.6">value = [1, 0]</tspan><tspan x="533.5" dy="3.6">class = 0</tspan></text></g>
<g id="n134" class="nd"><rect class="b" x="549.75" y="633" width="24.5" height="14"/><text x="562" y="637.4">samples = 5<tspan x="562" dy="3.6">value = [0, 5]</tspan><tspan x="562" dy="3.6">class = 1</tspan></text></g>
<g id="n135" class="nd"><rect x="578" y="631" width="27" height="18" fill="#eb9e65"/><text x="591.5" y="635.6">BMI &lt;= 34.65<tspan x="591.5" dy="3.6">samples = 15</tspan><tspan x="591.5" dy="3.6">value = [11, 4]</tspan><tspan x="591.5" dy="3.6">class = 0</tspan></text></g>
<g id="n136" class="nd"><rect x="609" y="631" width="58" height="18" fill="#fbf1ea"/><text x="638" y="635.6">DiabetesPedigreeFunction &lt;= 0.331<tspan x="638" dy="3.6">samples = 17</tspan><tspan x="638" dy="3.6">value = [9, 8]</tspan><tspan x="638" dy="3.6">class = 0</tspan></text></g>
<g id="n137" class="nd"><rect class="o" x="671.25" y="633" width="24.5" height="14"/><text x="683.5" y="637.4">samples = 2<tspan x="683.5" dy="3.6">value = [2, 0]</tspan><tspan x="683.5" dy="3.6">class = 0</tspan></text></g>
<g id="n138" class="nd"><rect class="b" x="700.25" y="633" width="24.5" height="14"/><text x="712.5" y="637.4">samples = 1<tspan x="712.5" dy="3.6">value = [0, 1]</tspan><tspan x="712.5" dy="3.6">class = 1</tspan></text></g>
<g id="n139" class="nd"><rect class="b" x="728.75" y="633" width="24.5" height="14"/><text x="741" y="637.4">samples = 7<tspan x="741" dy="3.6">value = [0, 7]</tspan><tspan x="741" dy="3.6">class = 1</tspan></text></g>
<g id="n140" class="nd"><rect class="o" x="757.75" y="633" width="24.5" height="14"/><text x="770" y="637.4">samples = 1<tspan x="770" dy="3.6">value = [1, 0]</tspan><tspan x="770" dy="3.6">class = 0</tspan></text></g>
<g id="n141" class="nd"><rect class="b" x="808.25" y="633" width="24.5" height="14"/><text x="820.5" y="637.4">samples = 2<tspan x="820.5" dy="3.6">value = [0, 2]</tspan><tspan x="820.5" dy="3.6">class = 1</tspan></text></g>
<g id="n142" class="nd"><rect class="o" x="837.75" y="633" width="24.5" height="14"/><text x="850" y="637.4">samples = 1<tspan x="850" dy="3.6">value = [1, 0]</tspan><tspan x="850" dy="3.6">class = 0</tspan></text></g>
<g id="n143" class="nd"><rect class="o" x="57.25" y="660" width="24.5" height="14"/><text x="69.5" y="664.4">samples = 2<tspan x="69.5" dy="3.6">value = [2, 0]</tspan><tspan x="69.5" dy="3.6">class = 0</tspan></text></g>
<g id="n144" class="nd"><rect x="86" y="658" width="57" height="18" fill="#a6d3f3"/><text x="114.5" y="662.6">DiabetesPedigreeFunction &lt;= 0.171<tspan x="114.5" dy="3.6">samples = 3</tspan><tspan x="114.5" dy="3.6">value = [1, 2]</tspan><tspan x="114.5" dy="3.6">class = 1</tspan></text></g>
<g id="n145" class="nd"><rect class="o" x="165.25" y="660" width="24.5" height="14"/><text x="177.5" y="664.4">samples = 1<tspan x="177.5" dy="3.6">value = [1, 0]</tspan><tspan x="177.5" dy="3.6">class = 0</tspan></text></g>
<g id="n146" class="nd"><rect class="b" x="193.75" y="660" width="24.5" height="14"/><text x="206" y="664.4">samples = 2<tspan x="206" dy="3.6">value = [0, 2]</tspan><tspan x="206" dy="3.6">class = 1</tspan></text></g>
<g id="n147" class="nd"><rect x="232" y="658" width="56" height="18" fill="#f6d1b7"/><text x="260" y="662.6">DiabetesPedigreeFunction &lt;= 0.174<tspan x="260" dy="3.6">samples = 4</tspan><tspan x="260" dy="3.6">value = [3, 1]</tspan><tspan x="260" dy="3.6">class = 0</tspan></text></g>
<g id="n148" class="nd"><rect class="o" x="292.75" y="660" width="24.5" height="14"/><text x="305" y="664.4">samples = 2<tspan x="305" dy="3.6">value = [2, 0]</tspan><tspan x="305" dy="3.6">class = 0</tspan></text></g>
<g id="n149" class="nd"><rect class="o" x="325.25" y="660" width="24.5" height="14"/><text x="337.5" y="664.4">samples = 2<tspan x="337.5" dy="3.6">value = [2, 0]</tspan><tspan x="337.5" dy="3.6">class = 0</tspan></text></g>
<g id="n150" class="nd"><rect class="b" x="353.75" y="660" width="24.5" height="14"/><text x="366" y="664.4">samples = 4<tspan x="366" dy="3.6">value = [0, 4]</tspan><tspan x="366" dy="3.6">class = 1</tspan></text></g>
<g id="n151" class="nd"><rect x="511" y="658" width="57" height="18" fill="#f6d6be"/><text x="539.5" y="662.6">DiabetesPedigreeFunction &lt;= 0.26<tspan x="539.5" dy="3.6">samples = 12</tspan><tspan x="539.5" dy="3.6">value = [7, 5]</tspan><tspan x="539.5" dy="3.6">class = 0</tspan></text></g>
<g id="n152" class="nd"><rect x="579" y="658" width="26" height="18" fill="#e68844"/><text x="592" y="662.6">BMI &lt;= 42.1<tspan x="592" dy="3.6">samples = 3</tspan><tspan x="592" dy="3.6">value = [2, 1]</tspan><tspan x="592" dy="3.6">class = 0</tspan></text></g>
<g id="n153" class="nd"><rect x="622" y="658" width="32" height="18" fill="#f2c09c"/><text x="638" y="662.6">Pregnancies &lt;= 7.5<tspan x="638" dy="3.6">samples = 8</tspan><tspan x="638" dy="3.6">value = [5, 3]</tspan><tspan x="638" dy="3.6">class = 0</tspan></text></g>
<g id="n154" class="nd"><rect x="683" y="658" width="33" height="18" fill="#6fb8ec"/><text x="699.5" y="662.6">Pregnancies &lt;= 9.5<tspan x="699.5" dy="3.6">samples = 9</tspan><tspan x="699.5" dy="3.6">value = [2, 7]</tspan><tspan x="699.5" dy="3.6">class = 1</tspan></text></g>
<g id="n155" class="nd"><rect class="b" x="88.25" y="687" width="24.5" height="14"/><text x="100.5" y="691.4">samples = 2<tspan x="100.5" dy="3.6">value = [0, 2]</tspan><tspan x="100.5" dy="3.6">class = 1</tspan></text></g>
<g id="n156" class="nd"><rect class="o" x="116.75" y="687" width="24.5" height="14"/><text x="129" y="691.4">samples = 1<tspan x="129" dy="3.6">value = [1, 0]</tspan><tspan x="129" dy="3.6">class = 0</tspan></text></g>
<g id="n157" class="nd"><rect class="o" x="232.75" y="687" width="24.5" height="14"/><text x="245" y="691.4">samples = 3<tspan x="245" dy="3.6">value = [3, 0]</tspan><tspan x="245" dy="3.6">class = 0</tspan></text></g>
<g id="n158" class="nd"><rect class="b" x="262.25" y="687" width="24.5" height="14"/><text x="274.5" y="691.4">samples = 1<tspan x="274.5" dy="3.6">value = [0, 1]</tspan><tspan x="274.5" dy="3.6">class = 1</tspan></text></g>
<g id="n159" class="nd"><rect x="465" y="685" width="58" height="18" fill="#f5cdb0"/><text x="494" y="689.6">DiabetesPedigreeFunction &lt;= 0.135<tspan x="494" dy="3.6">samples = 10</tspan><tspan x="494" dy="3.6">value = [6, 4]</tspan><tspan x="494" dy="3.6">class = 0</tspan></text></g>
<g id="n160" class="nd"><rect class="b" x="527.25" y="687" width="24.5" height="14"/><text x="539.5" y="691.4">samples = 1<tspan x="539.5" dy="3.6">value = [0, 1]</tspan><tspan x="539.5" dy="3.6">class = 1</tspan></text></g>
<g id="n161" class="nd"><rect class="o" x="557.25" y="687" width="24.5" height="14"/><text x="569.5" y="691.4">samples = 2<tspan x="569.5" dy="3.6">value = [2, 0]</tspan><tspan x="569.5" dy="3.6">class = 0</tspan></text></g>
<g id="n162" class="nd"><rect class="b" x="586.75" y="687" width="24.5" height="14"/><text x="599" y="691.4">samples = 1<tspan x="599" dy="3.6">value = [0, 1]</tspan><tspan x="599" dy="3.6">class = 1</tspan></text></g>
<g id="n163" class="nd"><rect class="o" x="615.25" y="687" width="24.5" height="14"/><text x="627.5" y="691.4">samples = 3<tspan x="627.5" dy="3.6">value = [3, 0]</tspan><tspan x="627.5" dy="3.6">class = 0</tspan></text></g>
<g id="n164" class="nd"><rect x="644" y="685" width="38" height="18" fill="#bddff6"/><text x="663" y="689.6">BloodPressure &lt;= 73.0<tspan x="663" dy="3.6">samples = 5</tspan><tspan x="663" dy="3.6">value = [2, 3]</tspan><tspan x="663" dy="3.6">class = 1</tspan></text></g>
<g id="n165" class="nd"><rect class="b" x="687.25" y="687" width="24.5" height="14"/><text x="699.5" y="691.4">samples = 7<tspan x="699.5" dy="3.6">value = [0, 7]</tspan><tspan x="699.5" dy="3.6">class = 1</tspan></text></g>
<g id="n166" class="nd"><rect class="o" x="716.25" y="687" width="24.5" height="14"/><text x="728.5" y="691.4">samples = 2<tspan x="728.5" dy="3.6">value = [2, 0]</tspan><tspan x="728.5" dy="3.6">class = 0</tspan></text></g>
<g id="n167" class="nd"><rect x="442" y="712" width="57" height="18" fill="#ffffff"/><text x="470.5" y="716.6">DiabetesPedigreeFunction &lt;= 0.351<tspan x="470.5" dy="3.6">samples = 6</tspan><tspan x="470.5" dy="3.6">value = [3, 3]</tspan><tspan x="470.5" dy="3.6">class = 0</tspan></text></g>
<g id="n168" class="nd"><rect class="o" x="504.25" y="714" width="24.5" height="14"/><text x="516.5" y="718.4">samples = 4<tspan x="516.5" dy="3.6">value = [4, 0]</tspan><tspan x="516.5" dy="3.6">class = 0</tspan></text></g>
<g id="n169" class="nd"><rect class="b" x="635.25" y="714" width="24.5" height="14"/><text x="647.5" y="718.4">samples = 1<tspan x="647.5" dy="3.6">value = [0, 1]</tspan><tspan x="647.5" dy="3.6">class = 1</tspan></text></g>
<g id="n170" class="nd"><rect x="664" y="712" width="29" height="18" fill="#f2c19e"/><text x="678.5" y="716.6">Insulin &lt;= 116.5<tspan x="678.5" dy="3.6">samples = 3</tspan><tspan x="678.5" dy="3.6">value = [2, 1]</tspan><tspan x="678.5" dy="3.6">class = 0</tspan></text></g>
<g id="n171" class="nd"><rect x="440" y="739" width="31" height="18" fill="#f0b890"/><text x="455.5" y="743.6">Glucose &lt;= 117.0<tspan x="455.5" dy="3.6">samples = 4</tspan><tspan x="455.5" dy="3.6">value = [3, 1]</tspan><tspan x="455.5" dy="3.6">class = 0</tspan></text></g>
<g id="n172" class="nd"><rect class="b" x="475.75" y="741" width="24.5" height="14"/><text x="488" y="745.4">samples = 1<tspan x="488" dy="3.6">value = [0, 1]</tspan><tspan x="488" dy="3.6">class = 1</tspan></text></g>
<g id="n173" class="nd"><rect class="o" x="652.25" y="741" width="24.5" height="14"/><text x="664.5" y="745.4">samples = 2<tspan x="664.5" dy="3.6">value = [2, 0]</tspan><tspan x="664.5" dy="3.6">class = 0</tspan></text></g>
<g id="n174" class="nd"><rect class="b" x="681.25" y="741" width="24.5" height="14"/><text x="693.5" y="745.4">samples = 1<tspan x="693.5" dy="3.6">value = [0, 1]</tspan><tspan x="693.5" dy="3.6">class = 1</tspan></text></g>
<g id="n175" class="nd"><rect class="o" x="428.75" y="768" width="24.5" height="14"/><text x="441" y="772.4">samples = 3<tspan x="441" dy="3.6">value = [3, 0]</tspan><tspan x="441" dy="3.6">class = 0</tspan></text></g>
<g id="n176" class="nd"><rect class="b" x="457.75" y="768" width="24.5" height="14"/><text x="470" y="772.4">samples = 1<tspan x="470" dy="3.6">value = [0, 1]</tspan><tspan x="470" dy="3.6">class = 1</tspan></text></g>
</g>
</svg>
